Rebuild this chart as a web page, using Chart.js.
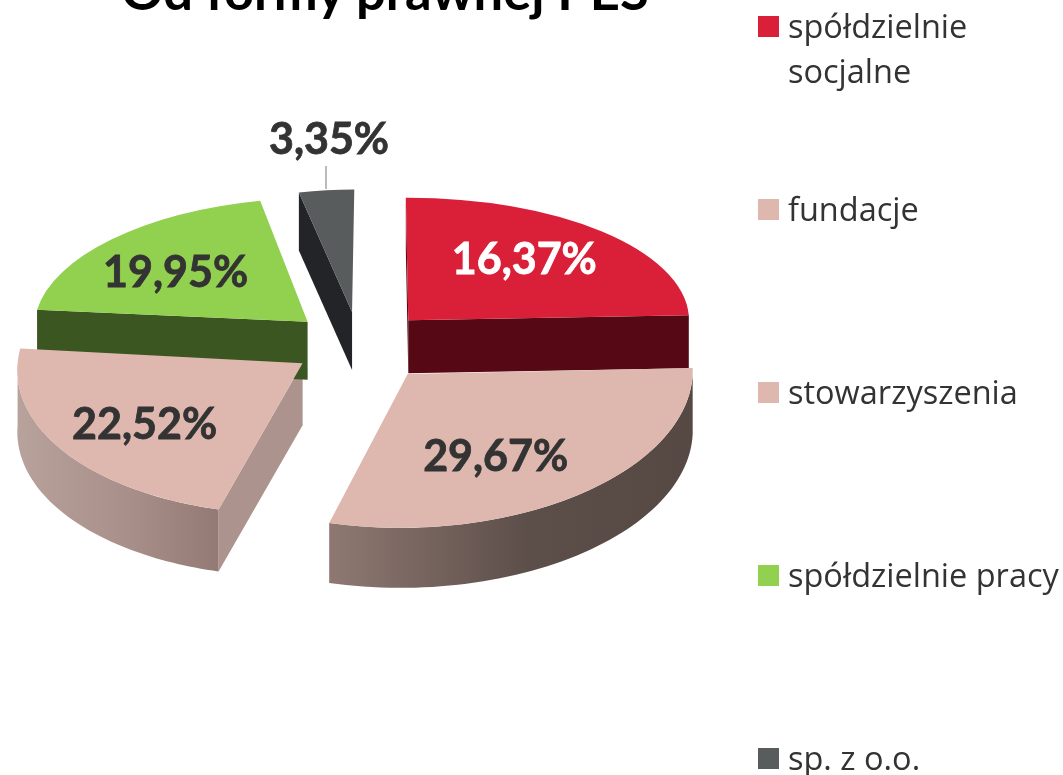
<!DOCTYPE html>
<html>
<head>
<meta charset="utf-8">
<script src="https://cdn.jsdelivr.net/npm/chart.js@4/dist/chart.umd.js"></script>
<style>
  html, body { margin: 0; padding: 0; background: #fff; overflow: hidden; }
  #wrap { position: relative; width: 1063px; height: 775px; overflow: hidden; }
  #title { position: absolute; left: 0; top: -42px; width: 770px; text-align: center; font: 700 52.5px Lato, sans-serif; color: #000; white-space: nowrap; }
</style>
</head>
<body>
<div id="wrap">
  <div id="title">Od formy prawnej PES</div>
  <canvas id="chart" width="1063" height="775"></canvas>
</div>
<script>
const categories = ['spółdzielnie socjalne', 'fundacje', 'stowarzyszenia', 'spółdzielnie pracy', 'sp. z o.o.'];
const legendLines = [['spółdzielnie', 'socjalne'], ['fundacje'], ['stowarzyszenia'], ['spółdzielnie pracy'], ['sp. z o.o.']];
// what the labels say
const printedLabels = ['16,37%', '29,67%', '22,52%', '19,95%', '3,35%'];
// how big the slices are drawn: the red one is bigger than its label, the rest add up to 100 with it
const sliceShares = [24.51, 29.67, 22.52, 19.95, 3.35];

const topColors = ['#da1f38', '#deb7af', '#deb7af', '#92d050', '#585c5d'];
const wallColors = ['#560814', '#b0948e', '#ad938d', '#3b5620', '#232427'];
const wallGradients = [null, ['#8f7872', '#5c4e49', '#564843'], ['#b8a29c', '#a98f89', '#937a74'], null, null];
const labelColors = ['#ffffff', '#333333', '#333333', '#333333', '#333333'];

// fake perspective, one set per slice
const tilts = [0.43, 0.54, 0.53, 0.435, 0.43];
const shears = [0, -0.025, -0.045, -0.043, -0.016];
const widths = [0.985, 1, 1, 0.958, 0.93];
const pulls = [70, 76, 70, 70, 70];
const depths = [53, 60, 62, 58, 58];
const labelOffsets = [[116, -60], [88, 83], [-158, 62], [-132, -49], [-23, -172]];

const apexOf = (arc, i) => {
    const mid = (arc.startAngle + arc.endAngle) / 2;
    return { x: arc.x + Math.cos(mid) * pulls[i], y: arc.y + Math.sin(mid) * pulls[i] * tilts[i] };
};

const drawWalls = (ctx, arc, i) => {
    const a0 = arc.startAngle, a1 = arc.endAngle, r = arc.outerRadius;
    const p = apexOf(arc, i), h = depths[i], t = tilts[i];
    const rim = a => ({
        x: p.x + (Math.cos(a) * widths[i] + Math.sin(a) * shears[i]) * r,
        y: p.y + Math.sin(a) * r * t
    });

    const radial = a => {
        const e = rim(a);
        ctx.fillStyle = wallColors[i];
        ctx.beginPath();
        ctx.moveTo(p.x, p.y);
        ctx.lineTo(e.x, e.y);
        ctx.lineTo(e.x, e.y + h);
        ctx.lineTo(p.x, p.y + h);
        ctx.closePath();
        ctx.fill();
    };
    if (Math.cos(a0) < 0) radial(a0);
    if (Math.cos(a1) > 0) radial(a1);

    // outer wall, only the part that faces us
    const from = Math.max(a0, 0), to = Math.min(a1, Math.PI);
    if (to > from && wallGradients[i]) {
        const stops = wallGradients[i];
        const l = rim(to).x, e = rim(from).x;
        const g = ctx.createLinearGradient(l, 0, e, 0);
        g.addColorStop(0, stops[0]);
        g.addColorStop(0.55, stops[1]);
        g.addColorStop(1, stops[2]);
        ctx.fillStyle = g;
        ctx.beginPath();
        for (let k = 0; k <= 60; k++) {
            const q = rim(from + (to - from) * k / 60);
            k ? ctx.lineTo(q.x, q.y) : ctx.moveTo(q.x, q.y);
        }
        for (let k = 60; k >= 0; k--) {
            const q = rim(from + (to - from) * k / 60);
            ctx.lineTo(q.x, q.y + h);
        }
        ctx.closePath();
        ctx.fill();
    }
};

const pie3d = {
    id: 'pie3d',
    beforeDatasetDraw(chart) {
        const ctx = chart.ctx;
        const arcs = chart.getDatasetMeta(0).data;
        arcs.forEach((arc, i) => drawWalls(ctx, arc, i));
        arcs.forEach((arc, i) => {
            const p = apexOf(arc, i);
            ctx.save();
            ctx.translate(p.x, p.y);
            ctx.transform(widths[i], 0, shears[i], tilts[i], 0, 0);
            ctx.translate(-arc.x, -arc.y);
            arc.draw(ctx);
            ctx.restore();
        });
        return false;
    },
    afterDatasetsDraw(chart) {
        const ctx = chart.ctx;
        ctx.save();
        ctx.textAlign = 'center';
        ctx.textBaseline = 'middle';
        ctx.font = '700 43px Lato, sans-serif';
        ctx.lineWidth = 0.8;
        chart.getDatasetMeta(0).data.forEach((arc, i) => {
            const p = apexOf(arc, i);
            ctx.fillStyle = ctx.strokeStyle = labelColors[i];
            ctx.fillText(printedLabels[i], p.x + labelOffsets[i][0], p.y + labelOffsets[i][1]);
            ctx.strokeText(printedLabels[i], p.x + labelOffsets[i][0], p.y + labelOffsets[i][1]);
        });
        // leader line of the smallest slice
        ctx.strokeStyle = '#777777';
        ctx.lineWidth = 1;
        ctx.beginPath();
        ctx.moveTo(326, 166);
        ctx.lineTo(326, 189);
        ctx.stroke();

        // legend, evenly spaced like the original
        ctx.textAlign = 'left';
        ctx.font = '32.5px "Open Sans", sans-serif';
        legendLines.forEach((lines, i) => {
            const y = 16 + 183 * i;
            ctx.fillStyle = topColors[i];
            ctx.fillRect(758, y, 21, 21);
            ctx.fillStyle = '#333333';
            lines.forEach((line, n) => ctx.fillText(line, 788, y + 13 + n * 45));
        });
        ctx.restore();
    }
};

new Chart(document.getElementById('chart'), {
    type: 'pie',
    data: {
        labels: categories,
        datasets: [{
            data: sliceShares,
            backgroundColor: topColors,
            borderWidth: 0
        }]
    },
    options: {
        responsive: false,
        animation: false,
        rotation: -0.5,
        radius: 285,
        layout: { padding: { left: 0, top: 0, right: 343, bottom: 91 } },
        plugins: { legend: { display: false }, tooltip: { enabled: false } }
    },
    plugins: [pie3d]
});
</script>
</body>
</html>
